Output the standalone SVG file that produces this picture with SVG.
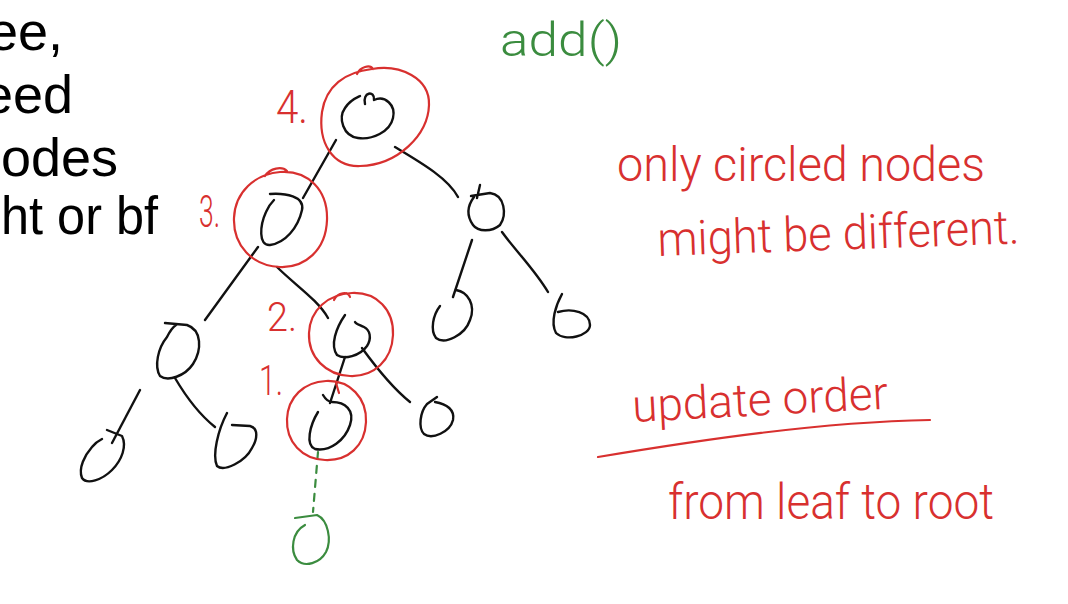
<svg xmlns="http://www.w3.org/2000/svg" width="1068" height="604" viewBox="0 0 1068 604">
<style>
.bk{fill:none;stroke:#111;stroke-width:2.4;stroke-linecap:round;stroke-linejoin:round}
.rd{fill:none;stroke:#d8302f;stroke-width:2.2;stroke-linecap:round;stroke-linejoin:round}
.gr{fill:none;stroke:#3b8c3f;stroke-width:2.2;stroke-linecap:round;stroke-linejoin:round}
.typed{font-family:"Liberation Sans",Arial,sans-serif;font-size:54px;fill:#000}
.hand{font-family:Roboto,"Liberation Sans",sans-serif;font-weight:300;fill:#d8302f}
.handg{font-family:Roboto,"Liberation Sans",sans-serif;font-weight:300;fill:#3b8c3f}
</style>
<rect width="1068" height="604" fill="#fff"/>
<g id="slide-text">
<text class="typed" x="63" y="50" text-anchor="end">ee,</text>
<text class="typed" x="73" y="113" text-anchor="end">eed</text>
<text class="typed" x="118" y="176" text-anchor="end">odes</text>
<text class="typed" x="1" y="234" textLength="157" lengthAdjust="spacingAndGlyphs">ht or bf</text>
</g>
<g id="connectors">
<path class="bk" d="M336,140 L303,198"/>
<path class="bk" d="M395,147 C420,162 448,178 458,197"/>
<path class="bk" d="M258,247 L205,320"/>
<path class="bk" d="M277,267 C295,285 318,300 328,318"/>
<path class="bk" d="M472,240 L453,297"/>
<path class="bk" d="M502,232 C515,250 535,270 548,292"/>
<path class="bk" d="M140,390 L112,443"/>
<path class="bk" d="M175,378 C185,395 200,415 215,427"/>
<path class="bk" d="M345,357 L330,403"/>
<path class="bk" d="M362,348 C378,370 395,390 410,402"/>
<path class="gr" d="M318,452 L313,512" stroke-dasharray="7 7"/>
</g>
<g id="node-root">
<path class="bk" d="M365,104 C362,92 375,90 374,100 C385,95 396,105 393,118 C390,132 372,140 358,138 C343,136 338,118 345,108 C350,100 358,97 360,96"/>
<path class="rd" d="M372,69 C400,64 430,78 429,105 C428,135 398,165 360,166 C332,167 318,142 322,112 C326,86 345,72 372,69 M357,74 C360,67 370,64 373,69"/>
<text class="hand" x="276" y="123" font-size="46" textLength="32" lengthAdjust="spacingAndGlyphs">4.</text>
</g>
<g id="node-3">
<path class="bk" d="M270,194 C285,193 305,196 302,210 C298,228 285,243 270,245 C258,246 260,225 266,212 C269,205 272,202 274,200"/>
<path class="rd" d="M280,172 C308,170 328,190 327,220 C326,250 305,268 280,267 C252,266 233,245 234,218 C235,192 255,174 280,172 M265,176 C270,168 282,166 287,171"/>
<text class="hand" x="199" y="227" font-size="44" textLength="21" lengthAdjust="spacingAndGlyphs">3.</text>
</g>
<g id="node-r">
<path class="bk" d="M471,196 L490,193 C505,195 507,215 500,225 C492,232 478,232 473,225 C466,215 468,205 474,197 M480,185 L477,198"/>
</g>
<g id="node-rl">
<path class="bk" d="M456,290 C468,292 476,305 470,320 C465,335 445,345 436,338 C430,330 433,315 440,306"/>
</g>
<g id="node-rr">
<path class="bk" d="M562,294 C556,305 550,322 556,333 C565,342 590,336 590,325 C590,312 572,308 558,312"/>
</g>
<g id="node-ll">
<path class="bk" d="M165,323 L187,325 C202,330 202,350 193,364 C185,376 168,382 160,376 C154,366 158,348 167,337 C170,331 173,327 176,325"/>
</g>
<g id="node-lll">
<path class="bk" d="M107,430 L122,436 C127,446 122,460 112,470 C102,480 87,485 82,478 C78,468 85,455 92,447 C95,443 98,441 102,439"/>
</g>
<g id="node-llr">
<path class="bk" d="M227,413 C218,430 212,455 217,466 C224,472 245,462 252,448 C258,438 258,428 250,426 L232,425"/>
</g>
<g id="node-2">
<path class="bk" d="M345,315 C336,328 330,345 337,355 C344,360 360,356 367,346 C372,338 370,330 364,327 C360,325 356,324 355,322"/>
<path class="rd" d="M352,293 C377,292 394,310 393,335 C392,360 374,377 350,376 C326,375 308,357 309,333 C310,310 328,294 352,293 M334,300 C338,292 348,291 350,297"/>
<text class="hand" x="267" y="331" font-size="40" textLength="30" lengthAdjust="spacingAndGlyphs">2.</text>
</g>
<g id="node-2r">
<path class="bk" d="M437,397 L427,404 C420,412 418,428 424,434 C432,440 450,432 453,420 C455,410 447,404 435,402"/>
</g>
<g id="node-1">
<path class="bk" d="M323,395 C326,400 330,402 332,402 C345,402 355,410 350,425 C345,440 330,452 315,449 C305,445 310,425 318,412"/>
<path class="rd" d="M326,381 C350,380 367,398 366,422 C365,446 348,461 325,460 C302,459 286,442 287,419 C288,397 304,382 326,381 M336,383 L339,393"/>
<text class="hand" x="259" y="395" font-size="42" textLength="24" lengthAdjust="spacingAndGlyphs">1.</text>
</g>
<g id="node-new">
<path class="gr" d="M295,518 L317,515 C328,520 332,540 326,552 C320,563 305,568 297,560 C290,550 292,532 305,525"/>
</g>
<g id="notes">
<text class="handg" x="500" y="56" font-size="46" textLength="122" lengthAdjust="spacingAndGlyphs">add()</text>
<text class="hand" x="617" y="181" font-size="48" textLength="368" lengthAdjust="spacingAndGlyphs">only circled nodes</text>
<text class="hand" x="658" y="256" font-size="48" textLength="362" lengthAdjust="spacingAndGlyphs" transform="rotate(-2 658 256)">might be different.</text>
<text class="hand" x="633" y="422" font-size="46" textLength="256" lengthAdjust="spacingAndGlyphs" transform="rotate(-3 633 422)">update order</text>
<path class="rd" d="M598,457 C700,440 820,422 930,420"/>
<text class="hand" x="668" y="519" font-size="50" textLength="326" lengthAdjust="spacingAndGlyphs">from leaf to root</text>
</g>
</svg>
